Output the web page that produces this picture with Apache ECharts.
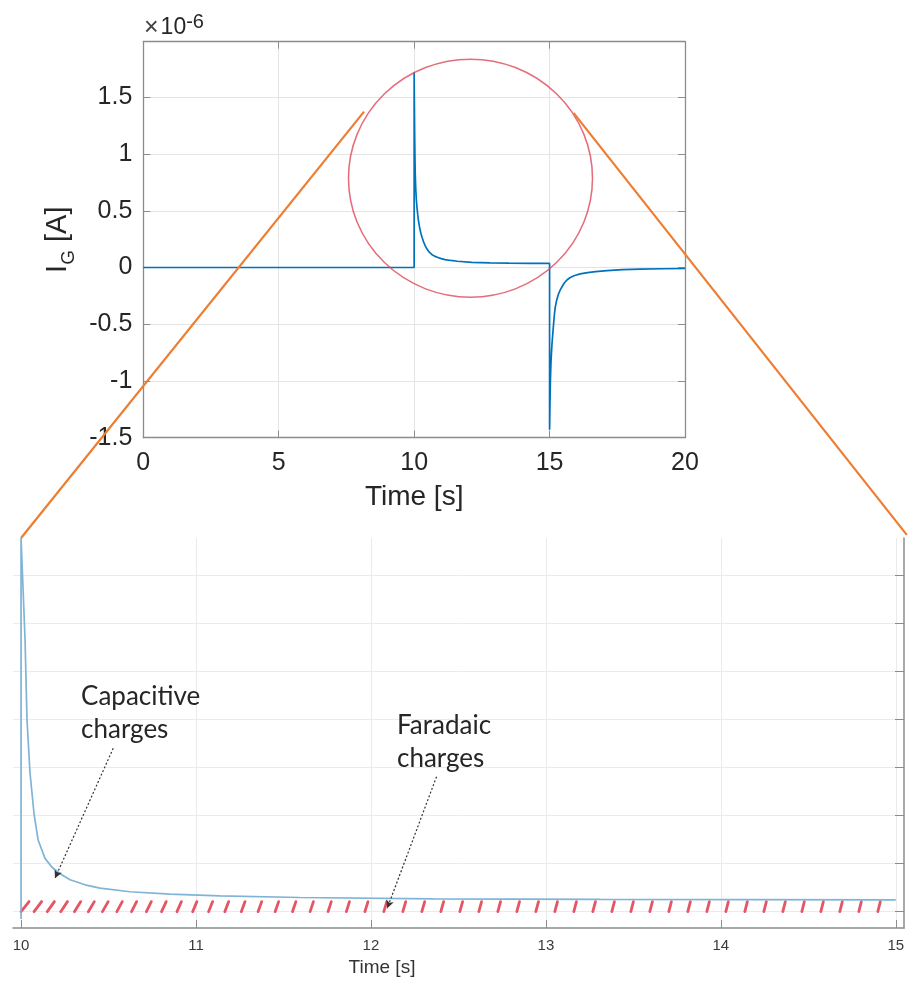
<!DOCTYPE html>
<html><head><meta charset="utf-8">
<script src="https://cdn.jsdelivr.net/npm/echarts@6/dist/echarts.min.js"></script>
<style>html,body{margin:0;padding:0;background:#fff}#c{width:909px;height:983px}</style>
</head><body><div id="c"></div>
<script>
// ---- data (top: full record, units of 1e-6 A) ----
const topTime = [0, 10, 10, 10.01, 10.02, 10.03, 10.04, 10.06, 10.08, 10.10, 10.13, 10.16, 10.20, 10.25, 10.30, 10.35, 10.41, 10.48, 10.56, 10.65, 10.75, 10.88, 11.0, 11.14, 11.35, 11.6, 12.13, 12.8, 13.5, 14.3, 15,
  15, 15.015, 15.03, 15.05, 15.07, 15.09, 15.12, 15.15, 15.18, 15.21, 15.26, 15.32, 15.39, 15.47, 15.55, 15.64, 15.75, 15.9, 16.13, 16.4, 16.7, 17.12, 17.7, 18.35, 19.2, 20];
const topCurrent = [0, 0, 1.72, 1.40, 1.15, 0.97, 0.83, 0.69, 0.60, 0.54, 0.47, 0.41, 0.355, 0.30, 0.26, 0.225, 0.19, 0.16, 0.135, 0.115, 0.100, 0.088, 0.078, 0.070, 0.062, 0.055, 0.046, 0.041, 0.039, 0.037, 0.036,
  -1.43, -1.20, -1.00, -0.85, -0.75, -0.67, -0.58, -0.49, -0.41, -0.35, -0.29, -0.24, -0.20, -0.165, -0.135, -0.11, -0.09, -0.073, -0.056, -0.045, -0.036, -0.027, -0.019, -0.014, -0.011, -0.009];
// ---- data (bottom: magnified 10-15 s, same units, own scale) ----
const zoomTime    = [10, 10, 10.014, 10.023, 10.034, 10.051, 10.074, 10.097, 10.137, 10.177, 10.223, 10.28, 10.366, 10.451, 10.623, 10.851, 11.137, 11.594, 12.354, 13.309, 15];
const zoomCurrent = [-0.03, 1.557, 1.30, 1.13, 0.80, 0.58, 0.41, 0.30, 0.222, 0.185, 0.158, 0.133, 0.112, 0.098, 0.083, 0.0735, 0.066, 0.059, 0.053, 0.051, 0.049];
const zoomXTicks = [10, 11, 12, 13, 14, 15];
const zoomYGrid = [0, 0.2, 0.4, 0.6, 0.8, 1.0, 1.2, 1.4];
const faradaicBand = [10, 15, 0, 0.042];
const circleCenter = [12.08, 0.787];
const zoomLinks = [
  {from: [8.15, 1.374], to: [10, 1.557]},
  {from: [15.885, 1.363], to: [15.063, 1.57]}
];
const notes = [
  {text: 'Capacitive\ncharges', anchor: [10.343, 0.965], arrowFrom: [10.527, 0.681], arrowTo: [10.194, 0.139]},
  {text: 'Faradaic\ncharges', anchor: [12.149, 0.845], arrowFrom: [12.375, 0.5625], arrowTo: [12.093, 0.014]}
];

const zip = (a, b) => a.map((v, i) => [v, b[i]]);
const AX = '#8c8c8c', TXT = '#262626', FONT = '"Liberation Sans", Arial, sans-serif';

const chart = echarts.init(document.getElementById('c'), null, {renderer: 'canvas'});
const option = {
  animation: false,
  backgroundColor: '#fff',
  title: {
    text: '{x|×}{m|10}{s|-6}', left: 144, top: 12, padding: 0,
    textStyle: {rich: {
      x: {fontFamily: FONT, fontSize: 25, fontWeight: 'normal', lineHeight: 32, color: '#444', padding: [0, 2, 0, 0]},
      m: {fontFamily: FONT, fontSize: 23, fontWeight: 'normal', lineHeight: 32, color: TXT},
      s: {fontFamily: FONT, fontSize: 20, fontWeight: 'normal', lineHeight: 12, verticalAlign: 'top', color: TXT}
    }}
  },
  grid: [
    {left: 143.3, top: 41.7, right: 224, bottom: 545.3},
    {left: 13, top: 538, right: 5, bottom: 55}
  ],
  xAxis: [
    {type: 'value', gridIndex: 0, min: 0, max: 20, interval: 5, position: 'bottom',
     name: 'Time [s]', nameLocation: 'middle', nameGap: 46,
     nameTextStyle: {fontFamily: FONT, fontSize: 28, color: TXT},
     axisLine: {show: true, onZero: false, lineStyle: {color: AX, width: 1.3}},
     axisTick: {inside: true, length: 7, lineStyle: {color: AX}},
     axisLabel: {margin: 13, fontFamily: FONT, fontSize: 25, color: TXT},
     splitLine: {show: true, lineStyle: {color: '#e4e4e4', width: 1}}},
    {type: 'value', gridIndex: 0, min: 0, max: 20, interval: 5, position: 'top',
     axisLine: {show: true, onZero: false, lineStyle: {color: AX, width: 1.3}},
     axisTick: {inside: true, length: 7, lineStyle: {color: AX}},
     axisLabel: {show: false}, splitLine: {show: false}},
    {type: 'value', gridIndex: 1, min: 9.954, max: 15.047, position: 'bottom',
     name: 'Time [s]', nameLocation: 'middle', nameGap: 30,
     nameTextStyle: {fontFamily: FONT, fontSize: 19, color: '#333', padding: [0, 153, 0, 0]},
     axisLine: {show: true, onZero: false, lineStyle: {color: AX, width: 1.5}},
     axisTick: {inside: true, length: 8, customValues: zoomXTicks, lineStyle: {color: AX}},
     axisLabel: {margin: 10, customValues: zoomXTicks, fontFamily: FONT, fontSize: 15, color: '#3a3a3a'},
     splitLine: {show: true, lineStyle: {color: '#ebebeb', width: 1}}}
  ],
  yAxis: [
    {type: 'value', gridIndex: 0, min: -1.5, max: 1.99, interval: 0.5, position: 'left',
     name: '{a|I}{b|G}{a| [A]}', nameLocation: 'middle', nameGap: 64,
     nameTextStyle: {rich: {
       a: {fontFamily: FONT, fontSize: 29, lineHeight: 40, color: TXT},
       b: {fontFamily: FONT, fontSize: 19, lineHeight: 19, verticalAlign: 'bottom', color: TXT}
     }},
     axisLine: {show: true, onZero: false, lineStyle: {color: AX, width: 1.3}},
     axisTick: {inside: true, length: 7, lineStyle: {color: AX}},
     axisLabel: {margin: 11, showMaxLabel: false, fontFamily: FONT, fontSize: 25, color: TXT},
     splitLine: {show: true, lineStyle: {color: '#e4e4e4', width: 1}}},
    {type: 'value', gridIndex: 0, min: -1.5, max: 1.99, interval: 0.5, position: 'right',
     axisLine: {show: true, onZero: false, lineStyle: {color: AX, width: 1.3}},
     axisTick: {inside: true, length: 7, lineStyle: {color: AX}},
     axisLabel: {show: false}, splitLine: {show: false}},
    {type: 'value', gridIndex: 1, min: -0.068, max: 1.557, position: 'right',
     axisLine: {show: true, onZero: false, lineStyle: {color: AX, width: 1.5}},
     axisTick: {inside: true, length: 9, customValues: zoomYGrid, lineStyle: {color: AX}},
     axisLabel: {show: false, customValues: zoomYGrid},
     splitLine: {show: true, lineStyle: {color: '#ebebeb', width: 1}}}
  ],
  series: [
    {type: 'line', xAxisIndex: 0, yAxisIndex: 0, data: zip(topTime, topCurrent), silent: true,
     showSymbol: false, symbol: 'none', lineStyle: {color: '#0072BD', width: 1.7}, z: 3},
    {type: 'line', xAxisIndex: 2, yAxisIndex: 2, data: zip(zoomTime, zoomCurrent), silent: true,
     showSymbol: false, symbol: 'none', lineStyle: {color: '#7fb4d6', width: 1.7}, z: 3,
     markLine: {silent: true, symbol: ['none', 'arrow'], symbolSize: [6, 8], animation: false,
       label: {show: false}, lineStyle: {type: [2, 2], color: '#333', width: 1.2},
       emphasis: {disabled: true},
       data: notes.map(n => [{coord: n.arrowFrom}, {coord: n.arrowTo}])}},
    {type: 'scatter', xAxisIndex: 0, yAxisIndex: 0, data: [circleCenter], silent: true,
     symbol: 'circle', symbolSize: [244, 238],
     itemStyle: {color: 'rgba(0,0,0,0)', borderColor: '#e0475a', borderWidth: 1.5}, z: 4},
    {type: 'custom', xAxisIndex: 2, yAxisIndex: 2, data: [faradaicBand], silent: true,
     encode: {x: [0, 1], y: [2, 3]}, z: 2,
     renderItem: function (params, api) {
       const p0 = api.coord([api.value(0), api.value(3)]);
       const p1 = api.coord([api.value(1), api.value(2)]);
       const top = p0[1], bot = p1[1];
       const kids = [];
       let x = p0[0];
       while (x < p1[0] - 8) {
         const d = x - p0[0];
         const slant = 2.5 + 5.5 * Math.exp(-d / 150);
         kids.push({type: 'line', shape: {x1: x, y1: bot, x2: x + slant, y2: top},
           style: {stroke: '#e65563', lineWidth: 2.8, lineCap: 'round'}});
         x += 13 + 6 * Math.min(1, d / 350);
       }
       return {type: 'group', children: kids};
     }}
  ]
};
chart.setOption(option);

const g = [];
zoomLinks.forEach(l => {
  const a = chart.convertToPixel({seriesIndex: 0}, l.from);
  const b = chart.convertToPixel({seriesIndex: 1}, l.to);
  g.push({type: 'line', z: 100, silent: true, shape: {x1: a[0], y1: a[1], x2: b[0], y2: b[1]},
    style: {stroke: '#ed7d31', lineWidth: 2.2}});
});
notes.forEach(n => {
  const p = chart.convertToPixel({seriesIndex: 1}, n.anchor);
  g.push({type: 'text', z: 100, silent: true, x: p[0], y: p[1],
    style: {text: n.text, font: '26px Lato, "Open Sans", sans-serif', fill: '#262626', lineHeight: 33}});
});
chart.setOption({graphic: g});
</script></body></html>
